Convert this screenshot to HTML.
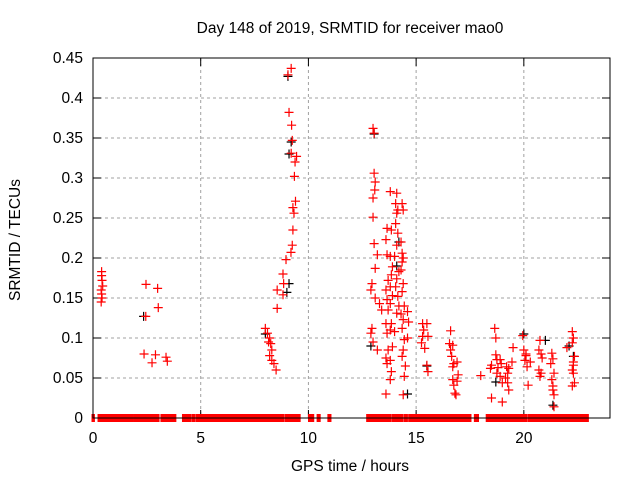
<!DOCTYPE html>
<html><head><meta charset="utf-8"><style>
body{margin:0;background:#fff}
svg{display:block;font-family:"Liberation Sans",sans-serif}
</style></head><body>
<svg id="c" width="640" height="480"></svg>
<script>
const xTicks=[0,5,10,15,20];
const yTicks=[0,0.05,0.1,0.15,0.2,0.25,0.3,0.35,0.4,0.45];
const yTickLabels=["0","0.05","0.1","0.15","0.2","0.25","0.3","0.35","0.4","0.45"];
const zeroRanges=[[0,0.02],[0.28,1.81],[1.95,2.1],[2.2,2.5],[2.55,2.75],[2.83,3.02],[3.2,3.52],[3.6,3.65],[3.75,3.8],[4.2,4.5],[4.65,4.7],[4.85,5.0],[5.05,5.75],[5.8,8.1],[8.2,8.55],[8.65,8.8],[8.95,9.3],[9.38,9.57],[10.05,10.2],[10.45,10.5],[10.95,11.0],[12.75,13.25],[13.35,13.8],[13.95,14.22],[14.3,14.35],[14.5,14.55],[14.7,15.4],[15.45,15.63],[15.7,16.95],[17.0,17.5],[17.75,17.85],[18.3,18.55],[18.6,18.75],[18.8,19.35],[19.4,19.65],[19.7,20.1],[20.25,21.4],[21.45,22.4],[22.45,22.95]];
const redT=[0.4,0.4,0.42,0.45,0.38,0.4,0.42,0.38,2.46,3.0,3.03,2.45,2.37,2.9,2.74,3.39,3.45,
8.0,8.1,8.2,8.15,8.25,8.3,8.2,8.3,8.4,8.5,8.55,8.55,8.82,8.85,8.82,8.96,9.19,9.25,9.28,9.33,9.28,9.4,9.35,9.38,9.45,9.2,9.25,9.22,9.1,9.05,9.2,
13.0,13.05,13.05,13.1,13.08,13.0,13.0,13.05,13.2,13.1,12.95,12.9,13.1,13.3,13.4,12.95,12.9,13.0,13.2,
13.65,13.6,13.65,13.7,13.6,13.65,13.7,13.6,13.65,13.7,13.6,13.65,13.6,
13.8,13.85,13.8,13.9,13.85,13.8,13.9,13.8,13.85,13.8,13.9,13.8,13.85,13.8,
14.1,14.05,14.15,14.1,14.05,14.15,14.1,14.0,14.2,14.1,14.05,14.15,14.1,14.0,14.2,
14.35,14.4,14.3,14.35,14.4,14.35,14.3,14.4,14.35,14.45,14.3,14.4,14.35,14.45,14.4,14.35,14.5,14.45,14.4,
14.6,14.65,14.6,15.3,15.35,15.3,15.25,15.4,15.5,15.55,15.5,15.55,
16.6,16.55,16.6,16.65,16.7,16.75,16.7,16.7,16.75,16.8,16.9,16.95,16.9,16.85,
18.0,18.5,18.45,18.5,18.65,18.7,18.7,18.75,18.8,18.75,18.9,18.95,18.9,19.0,19.0,19.2,19.15,19.25,19.3,19.3,19.25,19.5,19.45,
19.95,20.0,20.1,20.05,20.15,20.2,20.1,20.3,
20.75,20.7,20.8,20.85,20.7,20.75,20.8,21.3,21.35,21.25,21.4,21.3,21.35,21.4,21.35,21.4,
22.25,22.3,22.25,22.35,22.3,22.25,22.3,22.35,22.25,22.3,22.0];
const redV=[0.183,0.178,0.172,0.165,0.16,0.155,0.15,0.145,0.167,0.162,0.138,0.127,0.08,0.079,0.069,0.076,0.071,
0.112,0.106,0.1,0.095,0.093,0.085,0.078,0.072,0.068,0.06,0.137,0.16,0.154,0.168,0.18,0.198,0.207,0.216,0.235,0.256,0.263,0.271,0.302,0.32,0.327,0.331,0.347,0.366,0.382,0.429,0.437,
0.362,0.356,0.306,0.295,0.285,0.275,0.251,0.218,0.204,0.187,0.168,0.16,0.15,0.143,0.135,0.112,0.106,0.095,0.085,
0.237,0.223,0.204,0.172,0.16,0.148,0.135,0.118,0.106,0.085,0.075,0.068,0.03,
0.283,0.235,0.202,0.189,0.179,0.164,0.153,0.143,0.118,0.11,0.089,0.072,0.058,0.048,
0.281,0.268,0.26,0.256,0.243,0.231,0.216,0.202,0.183,0.174,0.164,0.152,0.131,0.108,0.14,
0.268,0.26,0.22,0.206,0.2,0.195,0.185,0.168,0.158,0.14,0.13,0.123,0.112,0.098,0.085,0.077,0.065,0.052,0.029,
0.133,0.12,0.1,0.118,0.11,0.102,0.094,0.087,0.118,0.102,0.066,0.058,
0.109,0.093,0.085,0.077,0.091,0.068,0.064,0.048,0.041,0.031,0.07,0.054,0.046,0.029,
0.053,0.066,0.062,0.025,0.112,0.1,0.079,0.073,0.063,0.056,0.073,0.068,0.052,0.044,0.02,0.064,0.05,0.044,0.035,0.062,0.056,0.088,0.07,
0.103,0.085,0.078,0.072,0.064,0.041,0.08,0.07,
0.097,0.085,0.08,0.075,0.06,0.052,0.056,0.081,0.074,0.068,0.056,0.048,0.04,0.029,0.035,0.014,
0.108,0.1,0.094,0.077,0.066,0.06,0.056,0.044,0.04,0.07,0.088];
const blackT=[9.05,9.2,9.1,9.1,9.0,8.0,12.9,13.05,14.2,14.1,14.6,15.5,20.0,21.0,21.35,22.3,22.1,2.35,18.7];
const blackV=[0.427,0.345,0.33,0.168,0.157,0.105,0.09,0.355,0.22,0.19,0.03,0.065,0.105,0.097,0.016,0.077,0.09,0.127,0.045];

const NS="http://www.w3.org/2000/svg";
const svg=document.getElementById('c');
const L=93,R=610,T=58,B=418;
const X=t=>L+(t/24)*(R-L);
const Y=v=>B-(v/0.45)*(B-T);
function mk(tag,a,parent){const e=document.createElementNS(NS,tag);for(const k in a)e.setAttribute(k,a[k]);(parent||svg).appendChild(e);return e;}

const grid=mk('g',{});


yTicks.forEach((v,i)=>{
  if(v>0&&v<0.45){const g=mk('line',{x1:L,x2:R,y1:Y(v),y2:Y(v),stroke:'#a0a0a0','stroke-dasharray':'3,3','stroke-width':1},grid);
  
  }
  const tk=mk('path',{d:`M${L} ${Y(v)}h8M${R} ${Y(v)}h-8`,stroke:'#000'});
  
  
  const tx=mk('text',{x:L-10,y:Y(v)+5,'text-anchor':'end','font-size':15.5,fill:'#000'});
  tx.textContent=yTickLabels[i];
  
  
});
xTicks.forEach(t=>{
  if(t>0){const g=mk('line',{x1:X(t),x2:X(t),y1:T,y2:B,stroke:'#a0a0a0','stroke-dasharray':'3,3','stroke-width':1},grid);
  
  }
  const tk=mk('path',{d:`M${X(t)} ${B}v-8M${X(t)} ${T}v8`,stroke:'#000'});
  
  
  const tx=mk('text',{x:X(t),y:B+25,'text-anchor':'middle','font-size':15.5,fill:'#000'});
  tx.textContent=String(t);
  
  
});

const zg=mk('g',{});


zeroRanges.forEach(r=>{
  const e=mk('rect',{x:X(r[0])-1.5,y:Y(0)-4,width:Math.max(X(r[1])-X(r[0])+3,2),height:8,fill:'#ff0000'},zg);
  
  
});
function plus(t,v,col,parent,name){
  const x=X(t),y=Y(v);
  const e=mk('path',{d:`M${x-4.5} ${y}h9M${x} ${y-4.5}v9`,stroke:col,'stroke-width':1.2},parent);
  
  
}
const bg=mk('g',{});


blackT.forEach((t,i)=>plus(t,blackV[i],'#000',bg,'black-point'));
const rg=mk('g',{});


redT.forEach((t,i)=>plus(t,redV[i],'#ff0000',rg,'red-point'));

const fr=mk('rect',{x:L,y:T,width:R-L,height:B-T,fill:'none',stroke:'#000','stroke-width':1});


const ti=mk('text',{x:350,y:33,'text-anchor':'middle','font-size':15.5});
ti.textContent='Day 148 of 2019, SRMTID for receiver mao0';


const xt=mk('text',{x:350,y:471,'text-anchor':'middle','font-size':15.5});
xt.textContent='GPS time / hours';


const yt=mk('text',{x:0,y:0,'text-anchor':'middle','font-size':15.5,transform:'translate(20,240) rotate(-90)'});
yt.textContent='SRMTID / TECUs';


</script>
</body></html>
